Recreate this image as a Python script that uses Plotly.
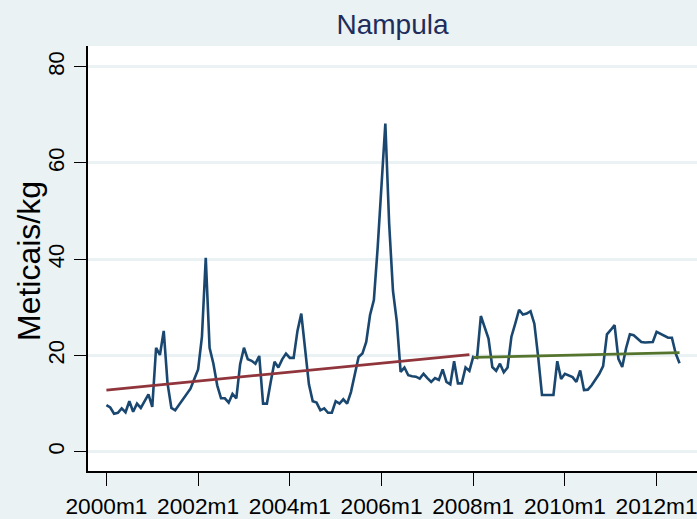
import plotly.graph_objects as go

# Monthly price series, Nampula, 2000m1 .. 2012m7 (Meticais/kg)
start_year = 2000
prices = [
    9.7, 9.2, 7.9, 8.1, 9.0, 8.2, 10.5, 8.3, 10.0, 9.1, 10.5, 11.9,
    9.3, 21.6, 20.1, 25.1, 14.2, 9.1, 8.6, 9.7, 10.9, 11.9, 13.1, 15.1,
    17.1, 23.9, 40.3, 21.6, 18.3, 13.8, 11.1, 11.1, 10.2, 12.0, 11.1, 18.2,
    21.6, 19.2, 18.9, 18.3, 19.9, 10.0, 10.0, 14.5, 18.7, 17.5, 19.2, 20.4,
    19.5, 19.5, 25.1, 28.7, 21.8, 14.0, 10.5, 10.2, 8.6, 9.0, 8.1, 8.1,
    10.5, 10.0, 10.9, 10.0, 12.4, 15.8, 19.7, 20.4, 22.8, 28.4, 31.5, 42.5,
    55.0, 68.2, 47.4, 33.4, 27.1, 16.6, 17.5, 15.9, 15.7, 15.6, 15.2, 16.2,
    15.3, 14.5, 15.3, 14.9, 17.1, 14.5, 14.0, 18.8, 14.2, 14.2, 17.5, 16.8,
    19.7, 19.5, 28.2, 25.8, 23.5, 17.6, 16.8, 18.3, 16.5, 17.5, 23.9, 26.6,
    29.5, 28.5, 28.7, 29.2, 26.6, 19.7, 11.8, 11.8, 11.8, 11.8, 18.8, 15.1,
    16.2, 15.9, 15.5, 14.5, 16.9, 12.8, 12.9, 13.8, 14.9, 16.2, 17.8, 24.4,
    25.3, 26.3, 19.3, 17.6, 21.5, 24.4, 24.2, 23.5, 22.8, 22.7, 22.7, 22.8,
    24.9, 24.5, 24.2, 23.7, 23.7, 20.4, 18.4,
]

# Linear trend segments (month index endpoints, fitted values)
trend1_months = [0, 95]
trend1_values = [12.8, 20.2]
trend2_months = [96, 150]
trend2_values = [19.6, 20.6]

tick_months = [0, 24, 48, 72, 96, 120, 144]
tick_labels = ["2000m1", "2002m1", "2004m1", "2006m1", "2008m1", "2010m1", "2012m1"]
y_ticks = [0, 20, 40, 60, 80]

months = list(range(len(prices)))

BG = "#EAF2F3"
NAVY = "#1A476F"
MAROON = "#90353B"
GREEN = "#55752F"
FONT = "Liberation Sans, Arial, sans-serif"

fig = go.Figure()
fig.add_trace(go.Scatter(x=months, y=prices, mode="lines",
                         line=dict(color=NAVY, width=2.6), showlegend=False))
fig.add_trace(go.Scatter(x=trend1_months, y=trend1_values, mode="lines",
                         line=dict(color=MAROON, width=2.8), showlegend=False))
fig.add_trace(go.Scatter(x=trend2_months, y=trend2_values, mode="lines",
                         line=dict(color=GREEN, width=2.8), showlegend=False))

fig.update_layout(
    width=697, height=519,
    margin=dict(l=88, r=0, t=46, b=48, autoexpand=False),
    paper_bgcolor=BG, plot_bgcolor="white",
    font=dict(family=FONT, color="black"),
    title=dict(text="Nampula", x=0.5, xref="paper", xanchor="center",
               y=1 - 24 / 519, yref="container", yanchor="middle",
               font=dict(size=28, color="#1e2d5c", family=FONT)),
    xaxis=dict(range=[-4.82, 154.57], tickmode="array", tickvals=tick_months,
               ticktext=tick_labels, ticks="outside", ticklen=13, tickwidth=1.3,
               tickcolor="black", showline=True, linecolor="black", linewidth=1.5,
               showgrid=False, zeroline=False, automargin=False,
               ticklabelstandoff=1, ticklabeloverflow="allow",
               tickfont=dict(size=22.7, color="black")),
    yaxis=dict(range=[-4.0, 84.3], tickmode="array", tickvals=y_ticks,
               ticks="outside", ticklen=12, tickwidth=1.3, tickcolor="black",
               showline=True, linecolor="black", linewidth=1.5,
               showgrid=True, gridcolor=BG, gridwidth=2.5, zeroline=False,
               automargin=False, ticklabeloverflow="allow",
               tickangle=-90, tickfont=dict(size=22, color="black"),
               ticklabelstandoff=1),
    annotations=[dict(text="Meticais/kg", textangle=-90, showarrow=False,
                      xref="paper", x=0, xshift=-59.5, xanchor="center",
                      yref="paper", y=0.5, yshift=-3, yanchor="middle",
                      font=dict(size=32, color="black", family=FONT))],
)

fig.write_html(
    "out.html",
    config={"displayModeBar": False},
    post_script="document.body.style.margin='0';document.body.style.padding='0';"
                "document.body.style.overflow='hidden';",
)
